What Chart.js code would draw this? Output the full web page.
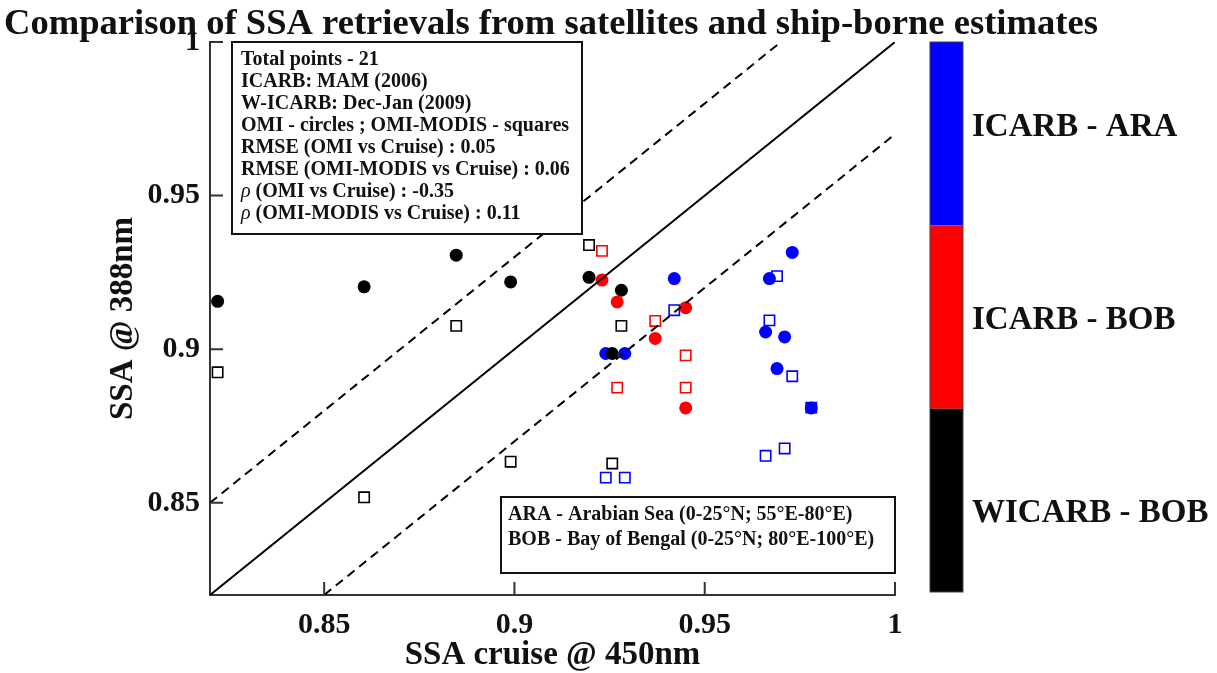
<!DOCTYPE html>
<html>
<head>
<meta charset="utf-8">
<script src="https://cdn.jsdelivr.net/npm/chart.js@4"></script>
<style>
  body { margin: 0; background: #fff; }
</style>
</head>
<body>
<canvas id="graph" width="1217" height="673"></canvas>
<script>
// SSA cruise @ 450nm (x) and satellite SSA @ 388nm (y)
const wicarbCruise = [0.822, 0.8605, 0.8847, 0.899, 0.9196, 0.9257, 0.9281];
const wicarbOmi = [0.9156, 0.9203, 0.9306, 0.9219, 0.9234, 0.8986, 0.9192];
const wicarbOmiModis = [0.8925, 0.8518, 0.9076, 0.8634, 0.9339, 0.8628, 0.9076];

const bobCruise = [0.923, 0.927, 0.937, 0.945, 0.945];
const bobOmi = [0.9225, 0.9154, 0.9035, 0.9135, 0.8809];
const bobOmiModis = [0.932, 0.8875, 0.9092, 0.898, 0.8875];

const araCruise = [0.924, 0.929, 0.942, 0.966, 0.967, 0.969, 0.971, 0.973, 0.978];
const araOmi = [0.8986, 0.8986, 0.923, 0.9056, 0.923, 0.8937, 0.904, 0.9315, 0.8809];
const araOmiModis = [0.8582, 0.8582, 0.9127, 0.8653, 0.9094, 0.9238, 0.8677, 0.8912, 0.881];

const xTicks = [0.85, 0.9, 0.95, 1];
const yTicks = [0.85, 0.9, 0.95, 1];
const axisMin = 0.82;
const axisMax = 1;
const bandOffset = 0.03;

const groups = ["ICARB - ARA", "ICARB - BOB", "WICARB - BOB"];
const groupColors = ["#0000ff", "#ff0000", "#000000"];

const chartTitle = "Comparison of SSA retrievals from satellites and ship-borne estimates";
const infoLines = [
  "Total points - 21",
  "ICARB: MAM (2006)",
  "W-ICARB: Dec-Jan (2009)",
  "OMI - circles ; OMI-MODIS - squares",
  "RMSE (OMI vs Cruise) : 0.05",
  "RMSE (OMI-MODIS vs Cruise) : 0.06",
  "ρ (OMI vs Cruise) : -0.35",
  "ρ (OMI-MODIS vs Cruise) : 0.11",
];
const regionLines = [
  "ARA - Arabian Sea (0-25°N; 55°E-80°E)",
  "BOB - Bay of Bengal (0-25°N; 80°E-100°E)",
];

const SERIF = '"Liberation Serif", "Times New Roman", serif';
const textColor = "#111";
const axisColor = "#333";

const pts = (xs, ys) => xs.map((x, i) => ({ x: x, y: ys[i] }));

function circles(label, xs, ys, color) {
  return {
    label, data: pts(xs, ys), pointStyle: "circle", pointRadius: 6.5,
    backgroundColor: color, borderColor: color, borderWidth: 0,
  };
}
function squares(label, xs, ys, color) {
  return {
    label, data: pts(xs, ys), pointStyle: "rect", pointRadius: 7.3,
    backgroundColor: "rgba(0,0,0,0)", borderColor: color, borderWidth: 1.6,
  };
}
function refLine(label, data, dash) {
  return {
    label, data, showLine: true, pointRadius: 0, borderColor: "#000",
    borderWidth: 2, borderDash: dash, fill: false,
  };
}

// title, boxes, inward ticks and the colour bar
const decor = {
  id: "decor",
  afterDraw(chart) {
    const { ctx, chartArea: a, scales } = chart;
    const sx = scales.x, sy = scales.y;
    ctx.save();

    ctx.fillStyle = textColor;
    ctx.font = "bold 36.6px " + SERIF;
    ctx.textAlign = "left";
    ctx.textBaseline = "alphabetic";
    ctx.fillText(chartTitle, 4, 34);

    ctx.strokeStyle = axisColor;
    ctx.lineWidth = 2;
    ctx.beginPath();
    xTicks.forEach((v) => {
      const px = sx.getPixelForValue(v);
      ctx.moveTo(px, a.bottom);
      ctx.lineTo(px, a.bottom - 13);
    });
    yTicks.forEach((v) => {
      const py = sy.getPixelForValue(v);
      ctx.moveTo(a.left, py);
      ctx.lineTo(a.left + 13, py);
    });
    ctx.stroke();

    // stats box
    ctx.fillStyle = "#fff";
    ctx.strokeStyle = "#111";
    ctx.lineWidth = 2;
    ctx.fillRect(232, 42, 350, 192);
    ctx.strokeRect(232, 42, 350, 192);
    ctx.fillStyle = textColor;
    ctx.textBaseline = "middle";
    infoLines.forEach((line, i) => {
      const ty = 60 + i * 22;
      let tx = 241;
      let rest = line;
      if (line.startsWith("ρ")) {
        ctx.font = "italic 20px " + SERIF;
        ctx.fillText("ρ", tx, ty);
        tx += ctx.measureText("ρ").width;
        rest = line.slice(1);
      }
      ctx.font = "bold 20px " + SERIF;
      ctx.fillText(rest, tx, ty);
    });

    // region box
    ctx.fillStyle = "#fff";
    ctx.fillRect(501, 497, 394, 76);
    ctx.strokeRect(501, 497, 394, 76);
    ctx.fillStyle = textColor;
    ctx.font = "bold 20px " + SERIF;
    regionLines.forEach((line, i) => ctx.fillText(line, 508, 515 + i * 25));

    // colour bar
    const cbX = 930, cbW = 33, cbTop = a.top, cbBottom = 592;
    const seg = (cbBottom - cbTop) / groups.length;
    groups.forEach((g, i) => {
      ctx.fillStyle = groupColors[i];
      ctx.fillRect(cbX, cbTop + i * seg, cbW, seg);
    });
    ctx.strokeStyle = "#444";
    ctx.lineWidth = 1;
    ctx.strokeRect(cbX, cbTop, cbW, cbBottom - cbTop);
    ctx.font = "bold 33px " + SERIF;
    ctx.fillStyle = textColor;
    groups.forEach((g, i) => {
      ctx.fillText(g, 972, 127 + i * 193);
    });
    ctx.restore();
  },
};

const tickFont = { family: SERIF, weight: "bold", size: 30 };
const titleFont = { family: SERIF, weight: "bold", size: 33, lineHeight: 1 };

const chart = new Chart(document.getElementById("graph"), {
  type: "scatter",
  data: {
    datasets: [
      refLine("1:1", [{ x: axisMin, y: axisMin }, { x: axisMax, y: axisMax }], []),
      refLine("+0.03", [{ x: axisMin, y: axisMin + bandOffset }, { x: axisMax - bandOffset, y: axisMax }], [9, 6]),
      refLine("-0.03", [{ x: axisMin + bandOffset, y: axisMin }, { x: axisMax, y: axisMax - bandOffset }], [9, 6]),
      squares("ICARB-BOB OMI-MODIS", bobCruise, bobOmiModis, groupColors[1]),
      circles("ICARB-BOB OMI", bobCruise, bobOmi, groupColors[1]),
      squares("WICARB-BOB OMI-MODIS", wicarbCruise, wicarbOmiModis, groupColors[2]),
      circles("WICARB-BOB OMI", wicarbCruise, wicarbOmi, groupColors[2]),
      squares("ICARB-ARA OMI-MODIS", araCruise, araOmiModis, groupColors[0]),
      circles("ICARB-ARA OMI", araCruise, araOmi, groupColors[0]),
    ],
  },
  options: {
    responsive: false,
    animation: false,
    devicePixelRatio: 1,
    layout: { padding: { left: 4, right: 322, top: 42, bottom: 0 } },
    plugins: {
      legend: { display: false },
      tooltip: { enabled: false },
    },
    scales: {
      x: {
        type: "linear",
        min: axisMin,
        max: axisMax,
        afterBuildTicks: (s) => { s.ticks = xTicks.map((v) => ({ value: v })); },
        afterFit: (s) => { s.height = 78; },
        grid: { drawOnChartArea: false, drawTicks: false },
        border: { display: true, color: axisColor, width: 2 },
        ticks: { font: tickFont, color: textColor, padding: 12, callback: (v) => String(v) },
        title: { display: true, text: "SSA cruise @ 450nm", font: titleFont, color: textColor, padding: { top: 0, bottom: 1.5 } },
      },
      y: {
        type: "linear",
        min: axisMin,
        max: axisMax,
        afterBuildTicks: (s) => { s.ticks = yTicks.map((v) => ({ value: v })); },
        afterFit: (s) => { s.width = 206; },
        grid: { drawOnChartArea: false, drawTicks: false },
        border: { display: true, color: axisColor, width: 2 },
        ticks: { font: tickFont, color: textColor, padding: 10, callback: (v) => String(v) },
        title: { display: true, text: "SSA @ 388nm", font: titleFont, color: textColor, padding: { top: 103, bottom: 0 } },
      },
    },
  },
  plugins: [decor],
});
</script>
</body>
</html>
